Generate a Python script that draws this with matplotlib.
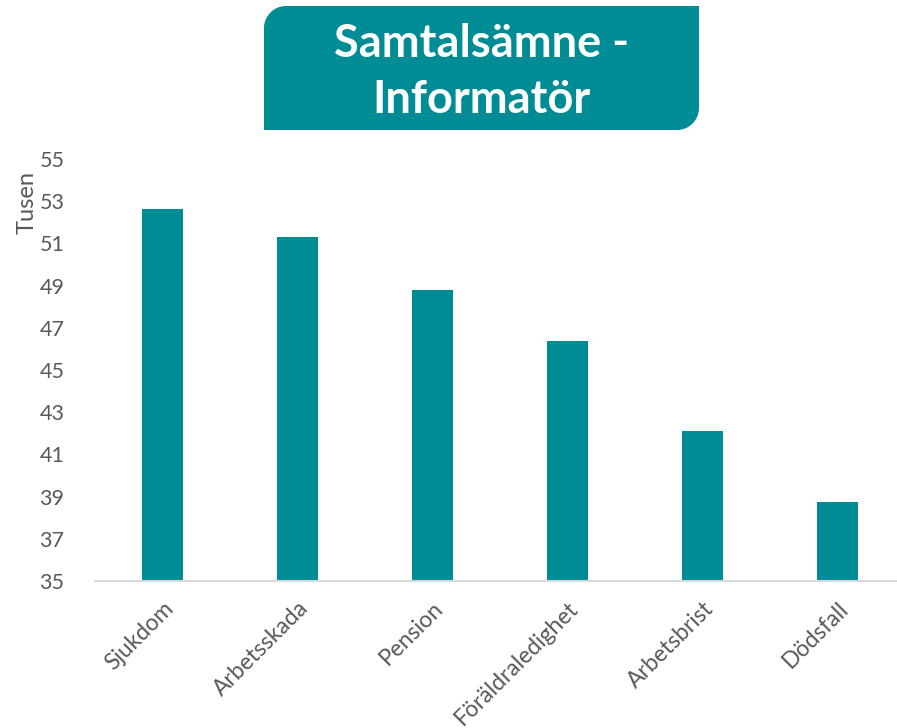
import numpy as np
import matplotlib.pyplot as plt
from matplotlib.path import Path
from matplotlib.patches import PathPatch

# Data
kategorier = ["Sjukdom", "Arbetsskada", "Pension", "Föräldraledighet", "Arbetsbrist", "Dödsfall"]
varden = [52.65, 51.30, 48.80, 46.38, 42.10, 38.75]  # tusen
yticks = list(range(35, 56, 2))

teal = "#008C95"
grå = "#595959"

plt.rcParams['font.family'] = ['Lato', 'DejaVu Sans']

W, H = 897, 728
fig = plt.figure(figsize=(W / 100, H / 100), dpi=100)

# plotytan (högra kanten går utanför bilden, som i originalet)
ax = fig.add_axes([95 / W, 1 - 581 / H, 810 / W, 422 / H])
x = np.arange(len(kategorier))
ax.bar(x, varden, width=0.31, color=teal, bottom=0)
ax.set_xlim(-0.5, 5.5)
ax.set_ylim(35, 55)
ax.set_yticks(yticks)
ax.set_xticks(x)
ax.set_xticklabels(kategorier, rotation=45, ha="right", rotation_mode="anchor")
ax.tick_params(axis="y", length=0, labelsize=15.5, colors=grå, pad=22)
ax.tick_params(axis="x", length=0, labelsize=16.5, colors=grå, pad=12)
for s in ["top", "right", "left"]:
    ax.spines[s].set_visible(False)
ax.spines["bottom"].set_color("#D9D9D9")
ax.spines["bottom"].set_linewidth(1.5)

fig.text(27 / W, 1 - 202 / H, "Tusen", rotation=90, ha="center", va="center",
         fontsize=17, color=grå)

# titelruta med rundade hörn uppe till vänster och nere till höger
ov = fig.add_axes([0, 0, 1, 1], zorder=-1)
ov.set_xlim(0, W)
ov.set_ylim(H, 0)
ov.axis("off")
x0, x1, y0, y1, r = 264, 699, 6, 130, 22
k = 0.5523 * r
verts = [
    (x0, y1), (x0, y0 + r),
    (x0, y0 + r - k), (x0 + r - k, y0), (x0 + r, y0),
    (x1, y0), (x1, y1 - r),
    (x1, y1 - r + k), (x1 - r + k, y1), (x1 - r, y1),
    (x0, y1), (x0, y1),
]
codes = [Path.MOVETO, Path.LINETO,
         Path.CURVE4, Path.CURVE4, Path.CURVE4,
         Path.LINETO, Path.LINETO,
         Path.CURVE4, Path.CURVE4, Path.CURVE4,
         Path.LINETO, Path.CLOSEPOLY]
ov.add_patch(PathPatch(Path(verts, codes), facecolor=teal, edgecolor="none"))
ov.text((x0 + x1) / 2, (y0 + y1) / 2 + 4, "Samtalsämne -\nInformatör", ha="center", va="center",
        fontsize=32.5, fontweight="bold", color="white", linespacing=1.4)

fig.savefig("out.png", dpi=100)
